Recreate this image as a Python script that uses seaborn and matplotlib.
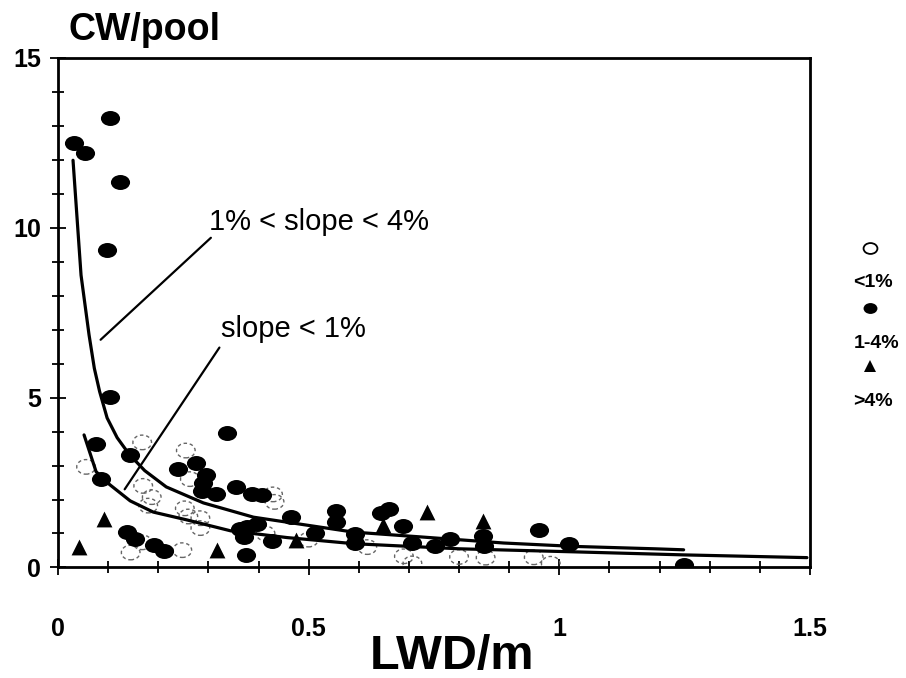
import matplotlib
matplotlib.use("Agg")
import matplotlib.pyplot as plt
import seaborn as sns
from matplotlib.lines import Line2D
from matplotlib.path import Path
from matplotlib.transforms import Affine2D
from matplotlib.ticker import FixedLocator, MultipleLocator

# Pools with channel slope < 1 %
low_x = [0.168, 0.255, 0.056, 0.170, 0.187, 0.180, 0.253, 0.260, 0.284, 0.284,
         0.248, 0.145, 0.168, 0.429, 0.432, 0.414, 0.500, 0.617, 0.690, 0.707,
         0.800, 0.853, 0.949, 0.983, 0.263]
low_y = [3.68, 3.44, 2.96, 2.40, 2.07, 1.82, 1.74, 1.50, 1.45, 1.16,
         0.51, 0.44, 0.74, 2.15, 1.93, 1.00, 0.82, 0.60, 0.33, 0.12,
         0.31, 0.29, 0.30, 0.11, 2.60]

# Pools with 1 % < slope < 4 %
mid_x = [0.104, 0.032, 0.053, 0.123, 0.098, 0.103, 0.076, 0.143, 0.086, 0.337,
         0.239, 0.276, 0.295, 0.290, 0.288, 0.316, 0.356, 0.388, 0.406, 0.464,
         0.554, 0.555, 0.593, 0.593, 0.513, 0.427, 0.364, 0.377, 0.396, 0.372,
         0.375, 0.137, 0.153, 0.191, 0.212, 0.645, 0.661, 0.688, 0.706, 0.753,
         0.782, 0.847, 0.849, 0.960, 1.019, 1.248]
mid_y = [13.21, 12.50, 12.20, 11.35, 9.34, 5.02, 3.64, 3.30, 2.61, 3.97,
         2.91, 3.07, 2.73, 2.49, 2.24, 2.15, 2.38, 2.17, 2.14, 1.48,
         1.65, 1.34, 0.99, 0.72, 1.02, 0.77, 1.13, 1.18, 1.29, 0.89,
         0.36, 1.05, 0.85, 0.65, 0.49, 1.59, 1.72, 1.21, 0.71, 0.64,
         0.84, 0.94, 0.64, 1.09, 0.68, 0.08]

# Pools with slope > 4 %
steep_x = [0.042, 0.091, 0.317, 0.474, 0.649, 0.736, 0.848]
steep_y = [0.60, 1.44, 0.51, 0.80, 1.25, 1.62, 1.37]

# Trend curves
fit_mid_x = [0.030, 0.046, 0.062, 0.0725, 0.083, 0.098, 0.118, 0.142, 0.173, 0.216,
             0.290, 0.390, 0.490, 0.590, 0.723, 0.889, 1.03, 1.19, 1.248]
fit_mid_y = [11.98, 8.60, 6.84, 5.86, 5.18, 4.40, 3.82, 3.33, 2.85, 2.37,
             1.90, 1.48, 1.26, 1.04, 0.90, 0.72, 0.62, 0.55, 0.52]
fit_low_x = [0.052, 0.076, 0.103, 0.144, 0.190, 0.257, 0.344, 0.457, 0.590, 0.800,
             1.03, 1.25, 1.494]
fit_low_y = [3.90, 2.82, 2.44, 1.96, 1.63, 1.40, 1.08, 0.88, 0.70, 0.55,
             0.46, 0.37, 0.29]

x_ticks = [0, 0.5, 1, 1.5]
x_tick_labels = ["0", "0.5", "1", "1.5"]
y_ticks = [0, 5, 10, 15]
y_tick_labels = ["0", "5", "10", "15"]
legend_labels = ["<1%", "1-4%", ">4%"]

sns.set_style("white")
plt.rcParams["font.family"] = ["Liberation Sans", "DejaVu Sans"]
plt.rcParams["text.color"] = "black"
plt.rcParams["xtick.color"] = "black"
plt.rcParams["ytick.color"] = "black"
plt.rcParams["xtick.labelcolor"] = "black"
plt.rcParams["ytick.labelcolor"] = "black"

# slightly flattened circle used for the point markers
ellipse = Path.unit_circle().transformed(Affine2D().scale(1.15, 0.9))

fig = plt.figure(figsize=(9.06, 6.78), dpi=100)
ax = fig.add_axes([0.064, 0.163, 0.830, 0.752])

sns.scatterplot(x=low_x, y=low_y, ax=ax, marker=ellipse, s=180,
                facecolors="none", edgecolors="#666666", linewidths=1.0,
                linestyle=(0, (2.5, 2.0)), zorder=2)
sns.scatterplot(x=mid_x, y=mid_y, ax=ax, marker=ellipse, s=190,
                color="black", edgecolor="black", linewidth=0, zorder=3)
sns.scatterplot(x=steep_x, y=steep_y, ax=ax, marker="^", s=130,
                color="black", edgecolor="black", linewidth=0, zorder=3)

sns.lineplot(x=fit_mid_x, y=fit_mid_y, ax=ax, color="black", lw=2.3,
             sort=False, estimator=None, zorder=4)
sns.lineplot(x=fit_low_x, y=fit_low_y, ax=ax, color="black", lw=2.3,
             sort=False, estimator=None, zorder=4)

# curve labels with pointer lines
ax.plot([0.305, 0.085], [9.70, 6.70], color="black", lw=1.6, zorder=4)
ax.plot([0.322, 0.133], [6.47, 2.30], color="black", lw=1.6, zorder=4)
ax.text(0.302, 10.17, "1% < slope < 4%", fontsize=21, ha="left", va="center",
        color="black")
ax.text(0.325, 7.03, "slope < 1%", fontsize=21, ha="left", va="center",
        color="black")

ax.set_xlim(0, 1.5)
ax.set_ylim(0, 15)
ax.xaxis.set_major_locator(FixedLocator(x_ticks))
ax.set_xticklabels(x_tick_labels)
ax.xaxis.set_minor_locator(MultipleLocator(0.1))
ax.yaxis.set_major_locator(FixedLocator(y_ticks))
ax.set_yticklabels(y_tick_labels)
ax.yaxis.set_minor_locator(MultipleLocator(1))
ax.tick_params(axis="both", which="both", direction="inout", color="black",
               width=1.3, bottom=True, left=True, top=False, right=False)
ax.tick_params(axis="both", which="major", length=12)
ax.tick_params(axis="both", which="minor", length=9)
ax.tick_params(axis="x", which="major", pad=30, labelsize=18, labelcolor="black")
ax.tick_params(axis="y", which="major", pad=6, labelsize=18, labelcolor="black")
for lab in ax.get_xticklabels() + ax.get_yticklabels():
    lab.set_fontweight("bold")
for sp in ax.spines.values():
    sp.set_visible(True)
    sp.set_color("black")
    sp.set_linewidth(2.0)
ax.set_xlabel("")
ax.set_ylabel("")
ax.grid(False)

fig.text(68 / 906, 1 - 40 / 678, "CW/pool", fontsize=27, fontweight="bold",
         ha="left", va="baseline", color="black")
fig.text(452 / 906, 1 - 657 / 678, "LWD/m", fontsize=35, fontweight="bold",
         ha="center", va="center", color="black")

# legend: marker above each label
leg_markers = [
    dict(y=248, marker=ellipse, mfc="none", mec="black", ms=10, mew=1.3),
    dict(y=308, marker=ellipse, mfc="black", mec="black", ms=10, mew=0),
    dict(y=366, marker="^", mfc="black", mec="black", ms=9, mew=0),
]
leg_text_pos = [(873, 283), (877, 343), (873, 402)]
for m in leg_markers:
    y = m.pop("y")
    fig.add_artist(Line2D([870 / 906], [1 - y / 678], linestyle="none",
                          transform=fig.transFigure, **m))
for (tx, ty), lab in zip(leg_text_pos, legend_labels):
    fig.text(tx / 906, 1 - ty / 678, lab, fontsize=14, fontweight="bold",
             ha="center", va="center", color="black")

fig.savefig("out.png", dpi=100)
